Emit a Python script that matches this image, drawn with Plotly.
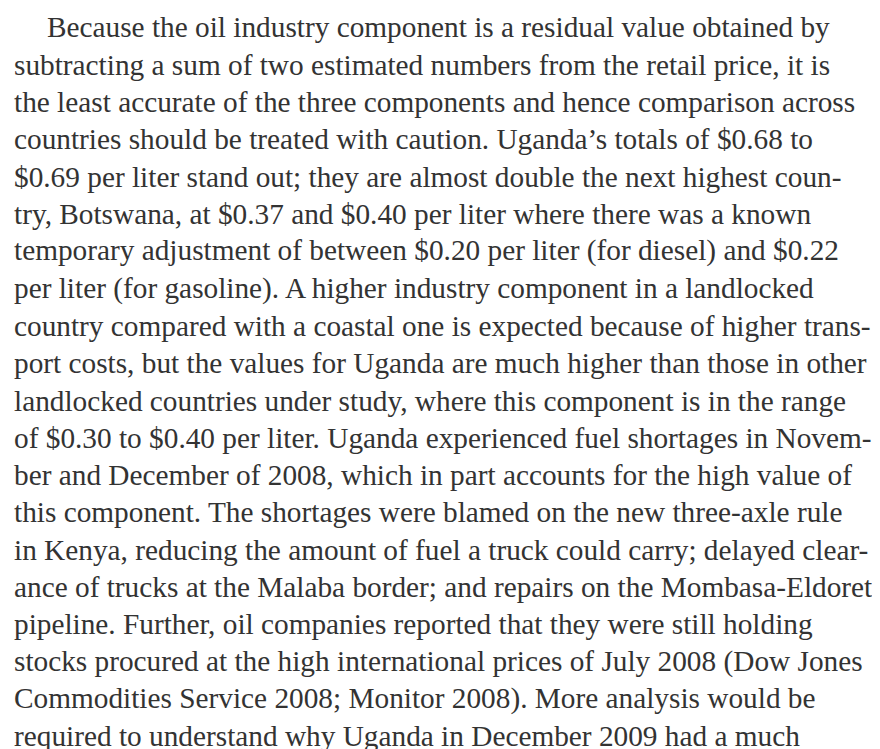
import plotly.graph_objects as go

W, H = 880, 749

lines = [
    "Because the oil industry component is a residual value obtained by",
    "subtracting a sum of two estimated numbers from the retail price, it is",
    "the least accurate of the three components and hence comparison across",
    "countries should be treated with caution. Uganda’s totals of $0.68 to",
    "$0.69 per liter stand out; they are almost double the next highest coun-",
    "try, Botswana, at $0.37 and $0.40 per liter where there was a known",
    "temporary adjustment of between $0.20 per liter (for diesel) and $0.22",
    "per liter (for gasoline). A higher industry component in a landlocked",
    "country compared with a coastal one is expected because of higher trans-",
    "port costs, but the values for Uganda are much higher than those in other",
    "landlocked countries under study, where this component is in the range",
    "of $0.30 to $0.40 per liter. Uganda experienced fuel shortages in Novem-",
    "ber and December of 2008, which in part accounts for the high value of",
    "this component. The shortages were blamed on the new three-axle rule",
    "in Kenya, reducing the amount of fuel a truck could carry; delayed clear-",
    "ance of trucks at the Malaba border; and repairs on the Mombasa-Eldoret",
    "pipeline. Further, oil companies reported that they were still holding",
    "stocks procured at the high international prices of July 2008 (Dow Jones",
    "Commodities Service 2008; Monitor 2008). More analysis would be",
    "required to understand why Uganda in December 2009 had a much",
]
indented = [True] + [False] * (len(lines) - 1)
cut_line_marks = ["(", ")"]

FONT = dict(family="Liberation Serif, Times New Roman, serif", size=29.3, color="#333333")
LEFT = 5
INDENT = 38
FIRST_BASE = 36
STEP = 37.3
DESC = 0.5  # baseline to annotation box bottom (empirical)

fig = go.Figure()
ann = []
for i, (txt, ind) in enumerate(zip(lines, indented)):
    base = FIRST_BASE + STEP * i
    ann.append(dict(
        text=txt, x=(INDENT if ind else LEFT) / W, y=1 - (base + DESC) / H,
        xref="paper", yref="paper", xanchor="left", yanchor="bottom",
        showarrow=False, font=FONT, borderpad=0,
    ))
# bottom of the preceding (cut-off) line's parentheses
base0 = FIRST_BASE - STEP
for mark, xpx in zip(cut_line_marks, [137, 815]):
    ann.append(dict(
        text=mark, x=xpx / W, y=1 - (base0 + DESC) / H,
        xref="paper", yref="paper", xanchor="left", yanchor="bottom",
        showarrow=False, font=FONT, borderpad=0,
    ))

fig.update_layout(
    width=W, height=H, margin=dict(l=0, r=0, t=0, b=0),
    paper_bgcolor="white", plot_bgcolor="white",
    xaxis=dict(visible=False, range=[0, 1]), yaxis=dict(visible=False, range=[0, 1]),
    annotations=ann, showlegend=False,
)
fig.write_html("out.html", config={"displayModeBar": False})
